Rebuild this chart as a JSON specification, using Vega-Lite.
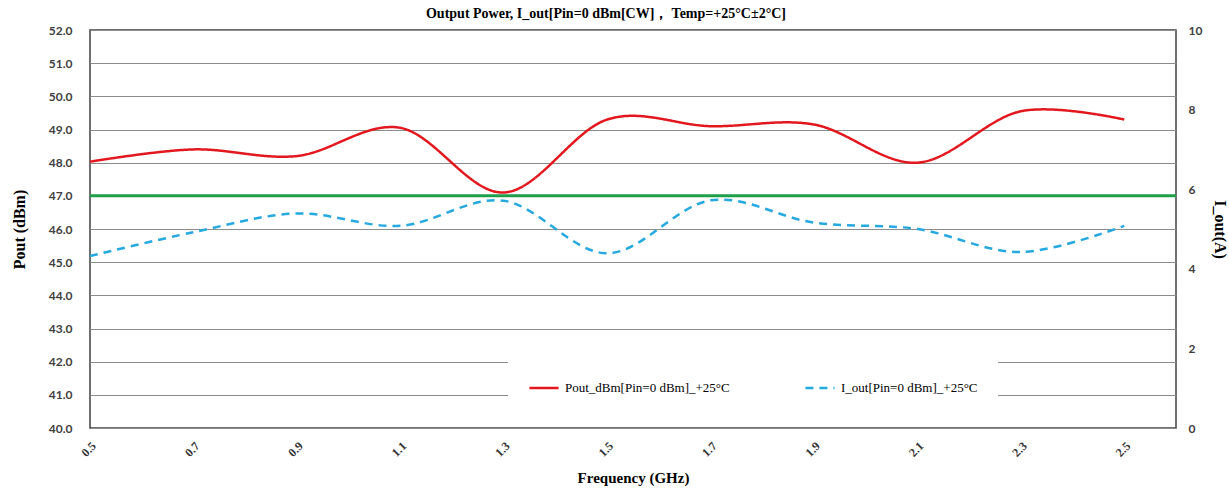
{
  "$schema": "https://vega.github.io/schema/vega-lite/v6.json",
  "width": 1086,
  "height": 398,
  "autosize": {"type": "none"},
  "padding": {"left": 90, "top": 30, "right": 53, "bottom": 60},
  "background": "white",
  "title": {
    "text": "Output Power, I_out[Pin=0 dBm[CW]， Temp=+25°C±2°C]",
    "font": "Liberation Serif",
    "fontSize": 14,
    "fontWeight": "bold",
    "color": "#000000",
    "anchor": "middle",
    "dx": -27,
    "offset": 3
  },
  "config": {
    "view": {"stroke": "#404040", "strokeWidth": 1.5}
  },
  "data": {
    "values": [
      {"f": 0.5, "series": "Pout_dBm[Pin=0 dBm]_+25°C", "value": 48.03},
      {"f": 0.7, "series": "Pout_dBm[Pin=0 dBm]_+25°C", "value": 48.4},
      {"f": 0.9, "series": "Pout_dBm[Pin=0 dBm]_+25°C", "value": 48.2},
      {"f": 1.1, "series": "Pout_dBm[Pin=0 dBm]_+25°C", "value": 49.05},
      {"f": 1.3, "series": "Pout_dBm[Pin=0 dBm]_+25°C", "value": 47.1},
      {"f": 1.5, "series": "Pout_dBm[Pin=0 dBm]_+25°C", "value": 49.3},
      {"f": 1.7, "series": "Pout_dBm[Pin=0 dBm]_+25°C", "value": 49.1},
      {"f": 1.9, "series": "Pout_dBm[Pin=0 dBm]_+25°C", "value": 49.15},
      {"f": 2.1, "series": "Pout_dBm[Pin=0 dBm]_+25°C", "value": 48.0},
      {"f": 2.3, "series": "Pout_dBm[Pin=0 dBm]_+25°C", "value": 49.55},
      {"f": 2.5, "series": "Pout_dBm[Pin=0 dBm]_+25°C", "value": 49.3},
      {"f": 0.5, "series": "I_out[Pin=0 dBm]_+25°C", "value": 4.32},
      {"f": 0.7, "series": "I_out[Pin=0 dBm]_+25°C", "value": 4.92},
      {"f": 0.9, "series": "I_out[Pin=0 dBm]_+25°C", "value": 5.39},
      {"f": 1.1, "series": "I_out[Pin=0 dBm]_+25°C", "value": 5.08},
      {"f": 1.3, "series": "I_out[Pin=0 dBm]_+25°C", "value": 5.71},
      {"f": 1.5, "series": "I_out[Pin=0 dBm]_+25°C", "value": 4.39},
      {"f": 1.7, "series": "I_out[Pin=0 dBm]_+25°C", "value": 5.72},
      {"f": 1.9, "series": "I_out[Pin=0 dBm]_+25°C", "value": 5.16},
      {"f": 2.1, "series": "I_out[Pin=0 dBm]_+25°C", "value": 5.0},
      {"f": 2.3, "series": "I_out[Pin=0 dBm]_+25°C", "value": 4.42},
      {"f": 2.5, "series": "I_out[Pin=0 dBm]_+25°C", "value": 5.08}
    ]
  },
  "encoding": {
    "x": {
      "field": "f",
      "type": "quantitative",
      "scale": {"domain": [0.5, 2.6], "nice": false, "zero": false},
      "axis": {
        "values": [0.5, 0.7, 0.9, 1.1, 1.3, 1.5, 1.7, 1.9, 2.1, 2.3, 2.5],
        "tickCount": 30,
        "format": ".1f",
        "labelAngle": -45,
        "labelOverlap": false,
        "title": "Frequency (GHz)",
        "grid": false,
        "ticks": false,
        "domain": false,
        "labelFont": "Liberation Serif",
        "labelFontWeight": "bold",
        "labelFontSize": 12,
        "labelColor": "#333333",
        "labelPadding": 12,
        "titleFont": "Liberation Serif",
        "titleFontSize": 15,
        "titleFontWeight": "bold",
        "titleColor": "#000000",
        "titlePadding": 12
      }
    }
  },
  "layer": [
    {
      "layer": [
        {
          "transform": [{"filter": "datum.series == 'Pout_dBm[Pin=0 dBm]_+25°C'"}],
          "mark": {"type": "line", "interpolate": "cardinal", "strokeWidth": 2.5},
          "encoding": {
            "y": {
              "field": "value",
              "type": "quantitative",
              "scale": {"domain": [40, 52], "nice": false, "zero": false},
              "axis": {
                "values": [40, 41, 42, 43, 44, 45, 46, 47, 48, 49, 50, 51, 52],
                "tickCount": 20,
                "format": ".1f",
                "labelOverlap": false,
                "title": "Pout (dBm)",
                "grid": true,
                "gridColor": "#8c8c8c",
                "gridWidth": 1,
                "ticks": false,
                "domain": false,
                "labelFont": "Lato",
                "labelFontWeight": "bold",
                "labelFontSize": 12,
                "labelColor": "#404040",
                "labelPadding": 18,
                "titleFont": "Liberation Serif",
                "titleFontSize": 16,
                "titleFontWeight": "bold",
                "titleColor": "#000000",
                "titlePadding": 21
              }
            },
            "color": {
              "field": "series",
              "type": "nominal",
              "scale": {
                "domain": ["Pout_dBm[Pin=0 dBm]_+25°C", "I_out[Pin=0 dBm]_+25°C"],
                "range": ["#e3181f", "#25a9e0"]
              },
              "legend": {
                "title": null,
                "orient": "none",
                "legendX": 418,
                "legendY": 322,
                "direction": "horizontal",
                "fillColor": "white",
                "padding": 20,
                "symbolType": "stroke",
                "symbolSize": 850,
                "symbolStrokeWidth": 2.5,
                "labelFont": "Liberation Serif",
                "labelFontSize": 13,
                "labelColor": "#000000",
                "labelOffset": 5,
                "columnPadding": 70,
                "labelLimit": 300
              }
            },
            "strokeDash": {
              "field": "series",
              "type": "nominal",
              "scale": {
                "domain": ["Pout_dBm[Pin=0 dBm]_+25°C", "I_out[Pin=0 dBm]_+25°C"],
                "range": [[1, 0], [8, 6]]
              }
            }
          }
        },
        {
          "data": {"values": [{"limit": "50 Wat", "p": 47}]},
          "mark": {"type": "rule", "color": "#1f9f4a", "strokeWidth": 3},
          "encoding": {
            "x": null,
            "y": {"field": "p", "type": "quantitative"}
          }
        },
        {
          "data": {"values": [{"limit": "50 Wat", "p": 47}]},
          "mark": {"type": "text", "color": "#1f9f4a", "font": "Open Sans", "fontSize": 14, "fontWeight": 600, "align": "center", "dy": -15},
          "encoding": {
            "x": {"datum": 0.7},
            "y": {"field": "p", "type": "quantitative"},
            "text": {"field": "limit"}
          }
        }
      ]
    },
    {
      "transform": [{"filter": "datum.series == 'I_out[Pin=0 dBm]_+25°C'"}],
      "mark": {"type": "line", "interpolate": "cardinal", "strokeWidth": 2.5},
      "encoding": {
        "y": {
          "field": "value",
          "type": "quantitative",
          "scale": {"domain": [0, 10], "nice": false, "zero": false},
          "axis": {
            "orient": "right",
            "values": [0, 2, 4, 6, 8, 10],
            "tickCount": 20,
            "format": "d",
            "labelOverlap": false,
            "title": "I_out(A)",
            "grid": false,
            "ticks": false,
            "domain": false,
            "labelFont": "Lato",
            "labelFontWeight": "bold",
            "labelFontSize": 12,
            "labelColor": "#404040",
            "labelPadding": 12,
            "titleFont": "Liberation Serif",
            "titleFontSize": 16,
            "titleFontWeight": "bold",
            "titleColor": "#000000",
            "titlePadding": 10
          }
        },
        "color": {"field": "series", "type": "nominal"},
        "strokeDash": {"field": "series", "type": "nominal"}
      }
    }
  ],
  "resolve": {"scale": {"y": "independent"}}
}
